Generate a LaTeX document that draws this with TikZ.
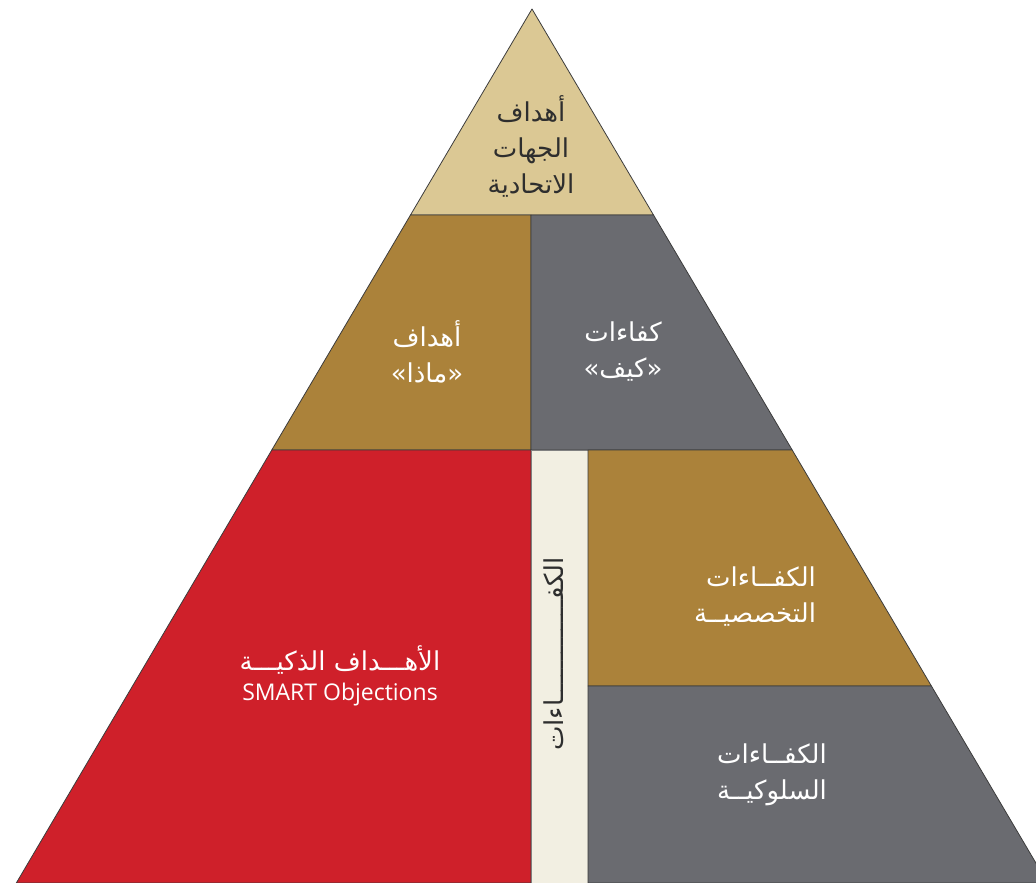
\documentclass[tikz,border=0pt]{standalone}
\usepackage{fontspec}
\setmainfont{Open Sans}
\newfontfamily\arabicfont[Script=Arabic]{DejaVu Sans}
\TeXXeTstate=1
\definecolor{sandtop}{HTML}{DBC894}
\definecolor{bronze}{HTML}{AB823A}
\definecolor{slate}{HTML}{6A6B70}
\definecolor{smartred}{HTML}{CF202A}
\definecolor{cream}{HTML}{F2EFE2}
\definecolor{edge}{HTML}{3C3C3C}
\definecolor{ink}{HTML}{2E2E2E}

\begin{document}
\begin{tikzpicture}[x=1pt,y=-1pt,
	panel/.style={draw=edge,line width=0.8pt,line join=round},
	label/.style={align=center,text=white,font=\arabicfont\fontsize{26}{36}\selectfont},
	]
	\useasboundingbox (0,0) rectangle (1036,883);
	\clip (0,0) rectangle (1036,883);

	%corners of the pyramid
	\coordinate (apex) at (532,9);
	\coordinate (l1) at (410.5,215);	\coordinate (r1) at (653.5,215);
	\coordinate (l2) at (271.8,450);	\coordinate (r2) at (792.2,450);
	\coordinate (r3) at (931.4,686);
	\coordinate (l4) at (16.3,883);	\coordinate (r4) at (1047.7,883);

	%top
	\draw[panel,fill=sandtop] (apex)--(l1)--(r1)--cycle;

	%middle row
	\draw[panel,fill=bronze] (l1)--(531,215)--(531,450)--(l2)--cycle;
	\draw[panel,fill=slate] (531,215)--(r1)--(r2)--(531,450)--cycle;

	%bottom row
	\draw[panel,fill=smartred] (l2)--(531,450)--(531,883)--(l4)--cycle;
	\draw[panel,draw=gray,fill=cream] (531,450) rectangle (588,883);
	\draw[panel,fill=bronze] (588,450)--(r2)--(r3)--(588,686)--cycle;
	\draw[panel,fill=slate] (588,686)--(r3)--(r4)--(588,883)--cycle;

	%labels
	\node[label,text=ink] (goalsfed) at (531,146) {\beginR أهداف\endR\\\beginR الجهات\endR\\\beginR الاتحادية\endR};
	\node[label] (what) at (427,352) {\beginR أهداف\endR\\\beginR «ماذا»\endR};
	\node[label] (how) at (623,352) {\beginR كفاءات\endR\\\beginR «كيف»\endR};
	\node[label] (smart) at (340,676) {\beginR الأهـــداف الذكيـــة\endR\\[-6pt]{\rmfamily\fontsize{23}{28}\selectfont SMART Objections}};
	\node[label,text=ink,rotate=90] (comp) at (554,654) {\beginR الكفـــــــــــــاءات\endR};
	\node[label,align=right] (tech) at (755,597) {\beginR الكفــاءات\endR\\\beginR التخصصيــة\endR};
	\node[label,align=right] (behav) at (772,775) {\beginR الكفــاءات\endR\\\beginR السلوكيــة\endR};
\end{tikzpicture}
\end{document}
